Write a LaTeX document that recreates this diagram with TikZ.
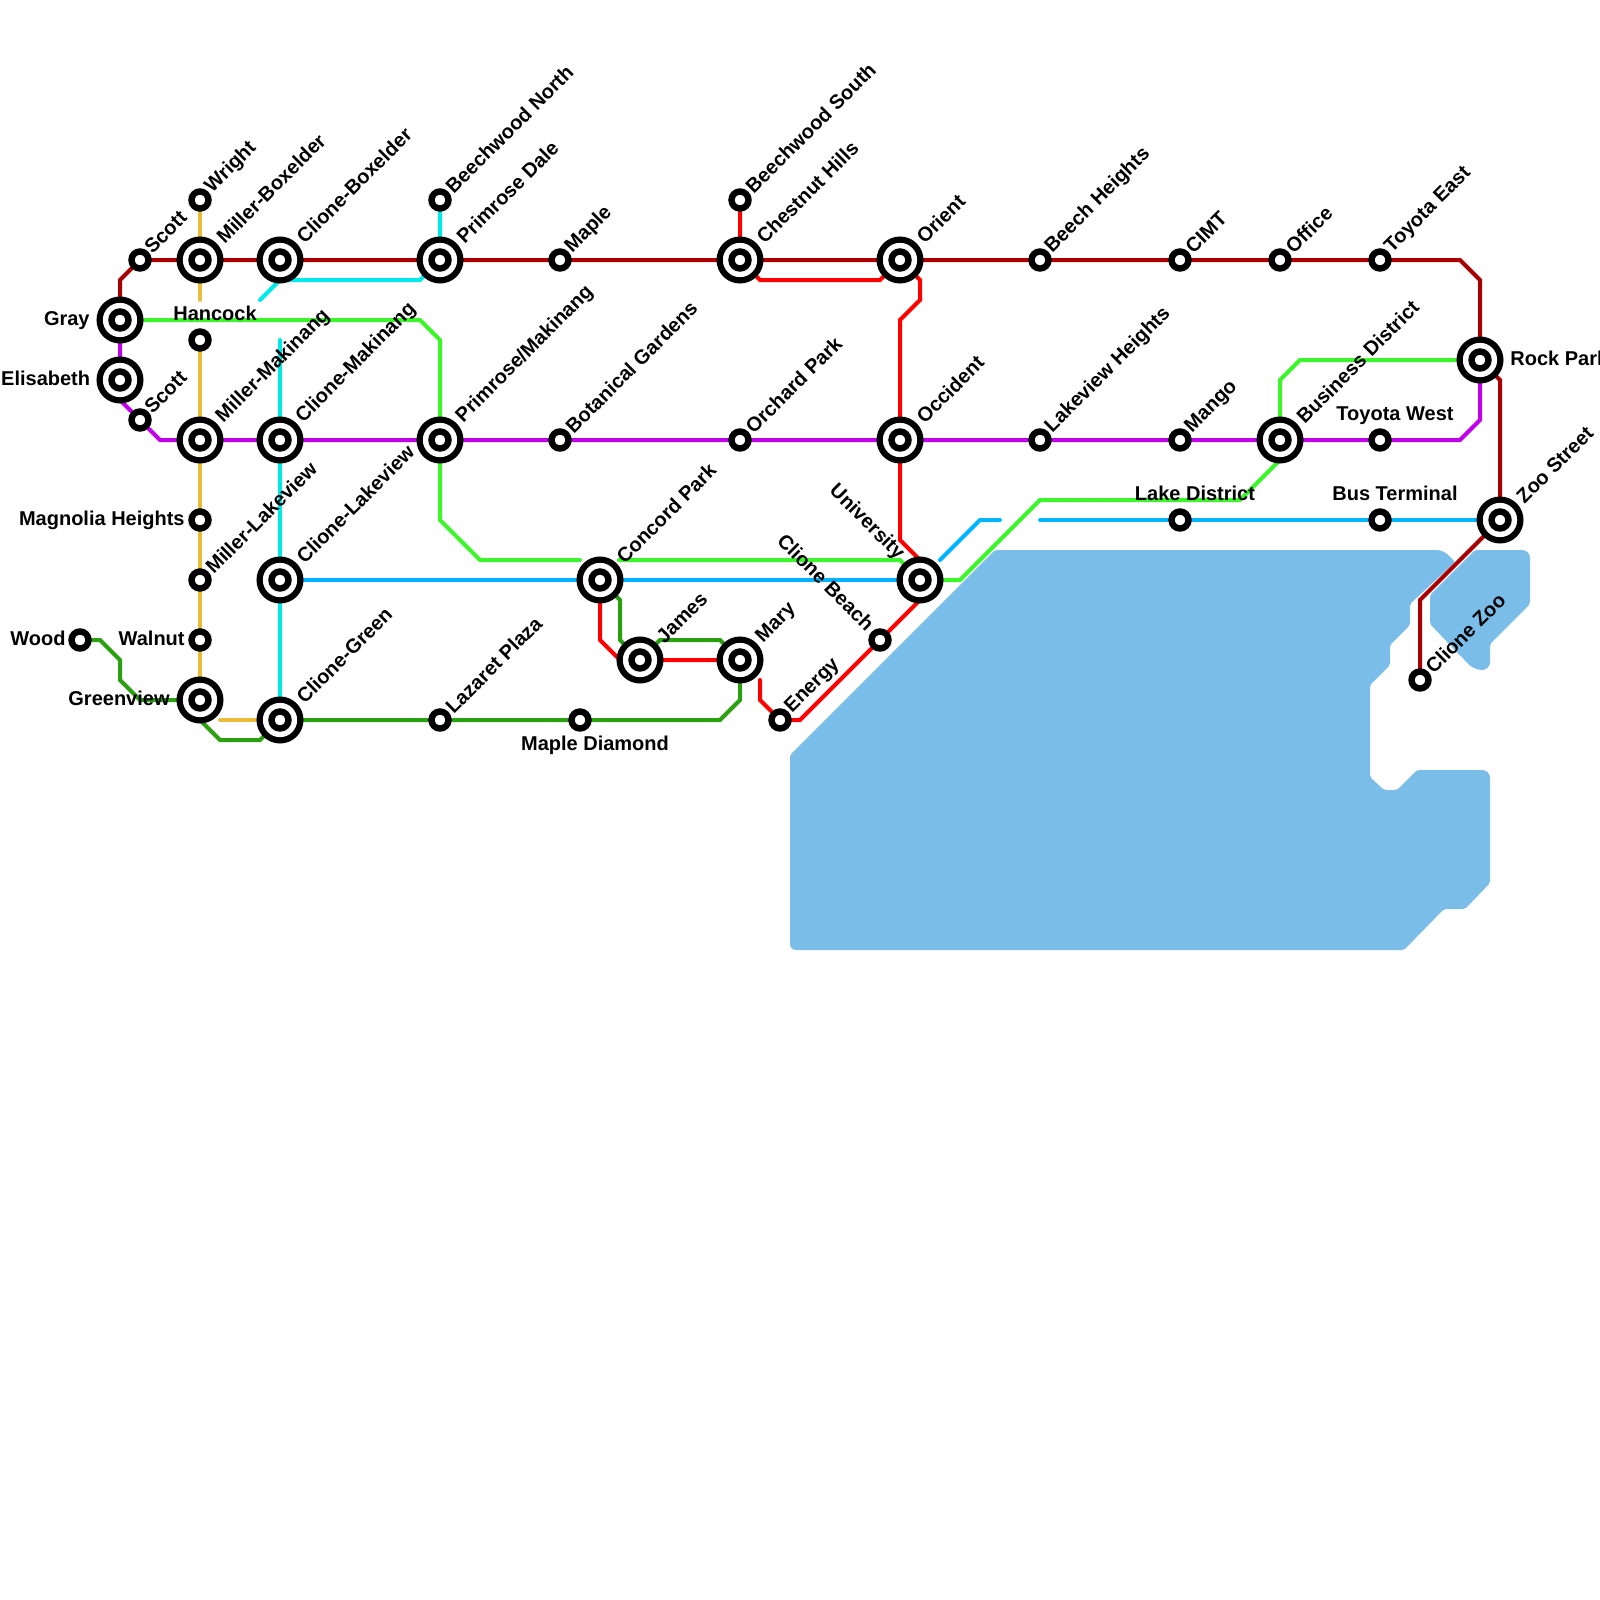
\documentclass[tikz,border=0pt]{standalone}
\usepackage{fontspec}
\setmainfont{Liberation Sans}
\usepackage{tikz}
\definecolor{lineaRoja}{RGB}{168, 0, 0}
\definecolor{lineaMorada}{RGB}{192, 0, 232}
\definecolor{lineaLima}{RGB}{60, 245, 42}
\definecolor{lineaCian}{RGB}{0, 232, 232}
\definecolor{lineaAmbar}{RGB}{232, 188, 60}
\definecolor{lineaVerde}{RGB}{42, 160, 16}
\definecolor{lineaRojo}{RGB}{255, 0, 0}
\definecolor{lineaAzul}{RGB}{0, 180, 255}
\definecolor{agua}{RGB}{122, 189, 232}
\pgfdeclarelayer{fondo}
\pgfsetlayers{fondo,main}
\tikzset{
  parada/.style={circle,draw=black,fill=white,line width=3.2pt,minimum size=8.5pt,inner sep=0pt,outer sep=0pt},
  enlace/.style={circle,draw=black,fill=white,line width=3.1pt,minimum size=20.4pt,inner sep=0pt,outer sep=0pt,
    path picture={\draw[black,line width=3.2pt] (path picture bounding box.center) circle (4.25pt);}},
  linea/.style={line width=2pt,line cap=round},
  rotulo/.style={font=\bfseries\fontsize{10}{12}\selectfont,inner sep=0pt,text=black},
  diag/.style={rotulo,xshift=0.75pt,rotate=45,anchor=west},
  contra/.style={rotulo,rotate=-45,anchor=east}
}
\begin{document}
\begin{tikzpicture}[x=0.5pt,y=-0.5pt]
  \useasboundingbox (0,0) rectangle (1600,1600);
  % estaciones
  \node[parada] (scottN) at (140,260) {};
  \node[parada] (wright) at (200,200) {};
  \node[enlace] (millerBox) at (200,260) {};
  \node[enlace] (cloneBox) at (280,260) {};
  \node[parada] (beechN) at (440,200) {};
  \node[enlace] (primDale) at (440,260) {};
  \node[parada] (maple) at (560,260) {};
  \node[parada] (beechS) at (740,200) {};
  \node[enlace] (chestnut) at (740,260) {};
  \node[enlace] (orient) at (900,260) {};
  \node[parada] (beechH) at (1040,260) {};
  \node[parada] (cimt) at (1180,260) {};
  \node[parada] (office) at (1280,260) {};
  \node[parada] (toyotaE) at (1380,260) {};
  \node[enlace] (gray) at (120,320) {};
  \node[enlace] (elisabeth) at (120,380) {};
  \node[parada] (scottS) at (140,420) {};
  \node[parada] (hancock) at (200,340) {};
  \node[enlace] (millerMak) at (200,440) {};
  \node[enlace] (cloneMak) at (280,440) {};
  \node[enlace] (primMak) at (440,440) {};
  \node[parada] (botanical) at (560,440) {};
  \node[parada] (orchard) at (740,440) {};
  \node[enlace] (occident) at (900,440) {};
  \node[parada] (lakeH) at (1040,440) {};
  \node[parada] (mango) at (1180,440) {};
  \node[enlace] (business) at (1280,440) {};
  \node[parada] (toyotaW) at (1380,440) {};
  \node[enlace] (rock) at (1480,360) {};
  \node[enlace] (zoo) at (1500,520) {};
  \node[parada] (busT) at (1380,520) {};
  \node[parada] (lakeD) at (1180,520) {};
  \node[enlace] (university) at (920,580) {};
  \node[parada] (cloneBeach) at (880,640) {};
  \node[enlace] (concord) at (600,580) {};
  \node[enlace] (cloneLake) at (280,580) {};
  \node[parada] (millerLake) at (200,580) {};
  \node[parada] (magnolia) at (200,520) {};
  \node[parada] (walnut) at (200,640) {};
  \node[parada] (wood) at (80,640) {};
  \node[enlace] (greenview) at (200,700) {};
  \node[enlace] (cloneGreen) at (280,720) {};
  \node[parada] (lazaret) at (440,720) {};
  \node[parada] (mapleD) at (580,720) {};
  \node[enlace] (james) at (640,660) {};
  \node[enlace] (mary) at (740,660) {};
  \node[parada] (energy) at (780,720) {};
  \node[parada] (cloneZoo) at (1420,680) {};
  % extremos sueltos
  \coordinate (finAmbarN) at (200,300);
  \coordinate (iniAmbarS) at (220,720);
  \coordinate (finCianN) at (260,300);
  \coordinate (iniCianS) at (280,340);
  \coordinate (finLimaO) at (580,560);
  \coordinate (iniLimaE) at (619,560);
  \coordinate (iniAzul) at (940,560);
  \coordinate (finAzul) at (1000,520);
  \coordinate (iniAzulE) at (1040,520);
  \coordinate (finRojo) at (760,680);
  \begin{pgfonlayer}{fondo}
  % agua
  \fill[agua,rounded corners=1pt] (790,755) -- (995,550) [rounded corners=3pt] -- (1443,550) [rounded corners=1pt] -- (1455,562) -- (1410,604) -- (1410,625) -- (1390,645) -- (1390,665) -- (1370,685) -- (1370,777) -- (1384,790) -- (1397,790) -- (1417,770) [rounded corners=4pt] -- (1490,770) [rounded corners=1pt] -- (1490,883) -- (1465,909) -- (1444,909) -- (1404,950) [rounded corners=3pt] -- (790,950) [rounded corners=1pt] -- cycle;
  \fill[agua,rounded corners=1pt] (1475,550) [rounded corners=4pt] -- (1530,550) [rounded corners=1pt] -- (1530,604) -- (1490,644) [rounded corners=4pt] -- (1490,670) -- (1474,670) [rounded corners=1pt] -- (1430,624) -- (1430,595) -- cycle;
  % lineas
  \draw[linea,lineaRoja] (cloneZoo) -- (1420,600) -- (zoo) -- (1500,380) -- (rock) -- (1480,280) -- (1460,260) -- (toyotaE) -- (office) -- (cimt) -- (beechH) -- (orient) -- (chestnut) -- (primDale) -- (cloneBox) -- (millerBox) -- (scottN) -- (120,280) -- (gray);
  \draw[linea,lineaMorada] (gray) -- (elisabeth.center) -- (120,400) -- (160,440) -- (millerMak) -- (cloneMak) -- (primMak) -- (occident) -- (business) -- (1460,440) -- (1480,420) -- (rock);
  \draw[linea,lineaLima] (gray) -- (420,320) -- (440,340) -- (primMak) -- (440,520) -- (480,560) -- (finLimaO);
  \draw[linea,lineaLima] (iniLimaE) -- (900,560) -- (university) -- (960,580) -- (1040,500) -- (1240,500) -- (1280,460) -- (business.center) -- (1280,380) -- (1300,360) -- (rock);
  \draw[linea,lineaCian] (beechN) -- (primDale) -- (420,280) -- (280,280) -- (finCianN);
  \draw[linea,lineaCian] (iniCianS) -- (cloneMak) -- (cloneLake) -- (cloneGreen);
  \draw[linea,lineaAmbar] (wright) -- (millerBox) -- (finAmbarN);
  \draw[linea,lineaAmbar] (hancock) -- (millerMak) -- (magnolia) -- (millerLake) -- (walnut) -- (greenview);
  \draw[linea,lineaAmbar] (iniAmbarS) -- (cloneGreen);
  \draw[linea,lineaVerde] (wood) -- (100,640) -- (120,660) -- (120,680) -- (140,700) -- (greenview.center) -- (200,720) -- (220,740) -- (260,740) -- (cloneGreen) -- (lazaret) -- (mapleD) -- (720,720) -- (740,700) -- (mary) -- (720,640) -- (660,640) -- (james) -- (620,640) -- (620,600) -- (concord);
  \draw[linea,lineaRojo] (beechS) -- (chestnut) -- (760,280) -- (880,280) -- (orient) -- (920,280) -- (920,300) -- (900,320) -- (occident) -- (900,540) -- (920,560) -- (university.center) -- (920,600) -- (cloneBeach) -- (800,720) -- (energy) -- (760,700) -- (finRojo);
  \draw[linea,lineaRojo] (concord) -- (600,640) -- (620,660) -- (james) -- (mary);
  \draw[linea,lineaAzul] (cloneLake) -- (concord) -- (university);
  \draw[linea,lineaAzul] (iniAzul) -- (980,520) -- (finAzul);
  \draw[linea,lineaAzul] (iniAzulE) -- (lakeD) -- (busT) -- (zoo);
  \end{pgfonlayer}
  % rotulos
  \node[diag] (tScottN) at (146,250) {Scott};
  \node[diag] (tWright) at (207,190) {Wright};
  \node[diag] (tMillerBox) at (218,240) {Miller-Boxelder};
  \node[diag] (tCloneBox) at (298,240) {Clione-Boxelder};
  \node[diag] (tBeechN) at (447,190) {Beechwood North};
  \node[diag] (tPrimDale) at (458,240) {Primrose Dale};
  \node[diag] (tMaple) at (567,250) {Maple};
  \node[diag] (tBeechS) at (747,190) {Beechwood South};
  \node[diag] (tChestnut) at (758,240) {Chestnut Hills};
  \node[diag] (tOrient) at (918,240) {Orient};
  \node[diag] (tBeechH) at (1047,250) {Beech Heights};
  \node[diag] (tCimt) at (1187,250) {CIMT};
  \node[diag] (tOffice) at (1287,250) {Office};
  \node[diag] (tToyotaE) at (1387,250) {Toyota East};
  \node[diag] (tScottS) at (146,410) {Scott};
  \node[diag] (tMillerMak) at (218,420) {Miller-Makinang};
  \node[diag] (tCloneMak) at (298,420) {Clione-Makinang};
  \node[diag] (tPrimMak) at (458,420) {Primrose/Makinang};
  \node[diag] (tBotanical) at (567,430) {Botanical Gardens};
  \node[diag] (tOrchard) at (747,430) {Orchard Park};
  \node[diag] (tOccident) at (918,420) {Occident};
  \node[diag] (tLakeH) at (1047,430) {Lakeview Heights};
  \node[diag] (tMango) at (1187,430) {Mango};
  \node[diag] (tBusiness) at (1298,420) {Business District};
  \node[diag] (tZoo) at (1518,500) {Zoo Street};
  \node[diag] (tMillerLake) at (207,570) {Miller-Lakeview};
  \node[diag] (tCloneLake) at (298,560) {Clione-Lakeview};
  \node[diag] (tConcord) at (618,560) {Concord Park};
  \node[diag] (tJames) at (658,640) {James};
  \node[diag] (tMary) at (758,640) {Mary};
  \node[diag] (tEnergy) at (787,710) {Energy};
  \node[diag] (tCloneGreen) at (298,700) {Clione-Green};
  \node[diag] (tLazaret) at (447,710) {Lazaret Plaza};
  \node[diag] (tCloneZoo) at (1427,670) {Clione Zoo};
  \node[contra] (tUniversity) at (901,557) {University};
  \node[contra] (tCloneBeach) at (871,627) {Clione Beach};
  \node[rotulo,anchor=east] (tGray) at (90,321) {Gray};
  \node[rotulo,anchor=east] (tElisabeth) at (90.5,378) {Elisabeth};
  \node[rotulo,anchor=east] (tMagnolia) at (185,520) {Magnolia Heights};
  \node[rotulo,anchor=east] (tWalnut) at (185,638) {Walnut};
  \node[rotulo,anchor=east] (tWood) at (66,638) {Wood};
  \node[rotulo,anchor=east] (tGreenview) at (170,698) {Greenview};
  \node[rotulo] (tHancock) at (215,313) {Hancock};
  \node[rotulo] (tToyotaW) at (1395,416) {Toyota West};
  \node[rotulo] (tBusT) at (1395,493) {Bus Terminal};
  \node[rotulo] (tLakeD) at (1195,493) {Lake District};
  \node[rotulo] (tMapleD) at (595,745) {Maple Diamond};
  \node[rotulo,anchor=west] (tRock) at (1510,358) {Rock Park};
\end{tikzpicture}
\end{document}
